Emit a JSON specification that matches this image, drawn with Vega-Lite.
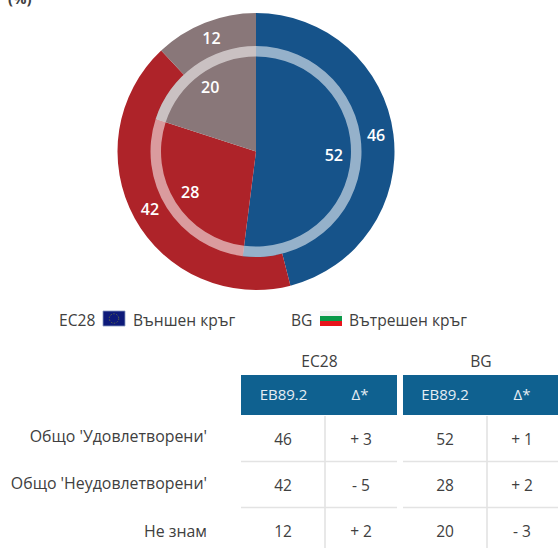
{
"$schema":"https://vega.github.io/schema/vega-lite/v6.json",
"width":558,"height":548,"padding":0,"autosize":{"type":"none"},"background":"white",
"config":{"view":{"stroke":null},"text":{"font":"Open Sans"}},
"datasets":{
"results":[
{"scope":"EC28","category":"Общо 'Удовлетворени'","rank":1,"value":46,"delta":"+ 3"},
{"scope":"EC28","category":"Общо 'Неудовлетворени'","rank":2,"value":42,"delta":"- 5"},
{"scope":"EC28","category":"Не знам","rank":3,"value":12,"delta":"+ 2"},
{"scope":"BG","category":"Общо 'Удовлетворени'","rank":1,"value":52,"delta":"+ 1"},
{"scope":"BG","category":"Общо 'Неудовлетворени'","rank":2,"value":28,"delta":"+ 2"},
{"scope":"BG","category":"Не знам","rank":3,"value":20,"delta":"- 3"}],
"scopes":[{"scope":"EC28","wave":"EB89.2","change":"Δ*","circle":"Външен кръг"},{"scope":"BG","wave":"EB89.2","change":"Δ*","circle":"Вътрешен кръг"}],
"stripes":[{"scope":"BG","stripe":"бяло"},{"scope":"BG","stripe":"зелено"},{"scope":"BG","stripe":"червено"}],
"notes":[{"unit":"(%)"}]
},
"resolve":{"scale":{"x":"independent","y":"independent","color":"independent","theta":"independent"}},
"layer":[
{"data":{"name":"notes"},"mark":{"type":"text","align":"left","baseline":"alphabetic","fontSize":15,"fontWeight":"bold","color":"#404040"},
 "encoding":{"text":{"field":"unit"},"x":{"field":"unit","type":"nominal","scale":{"type":"point","domain":["(%)"],"range":[8,8],"padding":0},"axis":null},"y":{"field":"unit","type":"nominal","scale":{"type":"point","domain":["(%)"],"range":[4,4],"padding":0},"axis":null}}},
{"data":{"name":"results"},"transform":[{"filter":"datum.scope==='EC28'"}],"mark":{"type":"arc","radius":138.5,"radius2":104},
 "encoding":{"theta":{"field":"value","type":"quantitative","stack":true,"scale":{"domain":[0,100]}},"order":{"field":"rank"},
 "color":{"field":"category","type":"nominal","legend":null,"scale":{"domain":["Общо 'Удовлетворени'","Общо 'Неудовлетворени'","Не знам"],"range":["#16538a","#ae2329","#897779"]}},
 "x":{"field":"scope","type":"nominal","scale":{"type":"point","domain":["EC28","BG"],"range":[256,256],"padding":0},"axis":null},"y":{"field":"scope","type":"nominal","scale":{"type":"point","domain":["EC28","BG"],"range":[151.5,151.5],"padding":0},"axis":null}}},
{"data":{"name":"results"},"transform":[{"filter":"datum.scope==='BG'"}],"mark":{"type":"arc","radius":105.5,"radius2":0},
 "encoding":{"theta":{"field":"value","type":"quantitative","stack":true,"scale":{"domain":[0,100]}},"order":{"field":"rank"},
 "color":{"field":"category","type":"nominal","legend":null,"scale":{"domain":["Общо 'Удовлетворени'","Общо 'Неудовлетворени'","Не знам"],"range":["#16538a","#ae2329","#897779"]}},
 "x":{"field":"scope","type":"nominal","scale":{"type":"point","domain":["EC28","BG"],"range":[256,256],"padding":0},"axis":null},"y":{"field":"scope","type":"nominal","scale":{"type":"point","domain":["EC28","BG"],"range":[151.5,151.5],"padding":0},"axis":null}}},
{"data":{"name":"results"},"transform":[{"filter":"datum.scope==='BG'"}],"mark":{"type":"arc","radius":105.5,"radius2":95,"color":"white","opacity":0.55},
 "encoding":{"theta":{"field":"value","type":"quantitative","stack":true,"scale":{"domain":[0,100]}},"order":{"field":"rank"},"detail":{"field":"category"},
 "x":{"field":"scope","type":"nominal","scale":{"type":"point","domain":["EC28","BG"],"range":[256,256],"padding":0},"axis":null},"y":{"field":"scope","type":"nominal","scale":{"type":"point","domain":["EC28","BG"],"range":[151.5,151.5],"padding":0},"axis":null}}},
{"data":{"name":"results"},"transform":[{"filter":"datum.scope==='EC28'"}],"mark":{"type":"text","radius":121,"color":"white","fontSize":16,"fontWeight":600},
 "encoding":{"theta":{"field":"value","type":"quantitative","stack":true,"scale":{"domain":[0,100]}},"order":{"field":"rank"},"detail":{"field":"category"},"text":{"field":"value"},
 "x":{"field":"scope","type":"nominal","scale":{"type":"point","domain":["EC28","BG"],"range":[256,256],"padding":0},"axis":null},"y":{"field":"scope","type":"nominal","scale":{"type":"point","domain":["EC28","BG"],"range":[151.5,151.5],"padding":0},"axis":null}}},
{"data":{"name":"results"},"transform":[{"filter":"datum.scope==='BG'"}],"mark":{"type":"text","radius":78,"color":"white","fontSize":16,"fontWeight":600},
 "encoding":{"theta":{"field":"value","type":"quantitative","stack":true,"scale":{"domain":[0,100]}},"order":{"field":"rank"},"detail":{"field":"category"},"text":{"field":"value"},
 "x":{"field":"scope","type":"nominal","scale":{"type":"point","domain":["EC28","BG"],"range":[256,256],"padding":0},"axis":null},"y":{"field":"scope","type":"nominal","scale":{"type":"point","domain":["EC28","BG"],"range":[151.5,151.5],"padding":0},"axis":null}}},
{"data":{"name":"scopes"},"mark":{"type":"text","align":"left","fontSize":15.6,"color":"#404040"},
 "encoding":{"text":{"field":"scope"},"x":{"field":"scope","type":"nominal","scale":{"type":"point","domain":["EC28","BG"],"range":[59,291],"padding":0},"axis":null},"y":{"field":"scope","type":"nominal","scale":{"type":"point","domain":["EC28","BG"],"range":[320.5,320.5],"padding":0},"axis":null}}},
{"data":{"name":"scopes"},"mark":{"type":"text","align":"left","fontSize":15.6,"color":"#404040"},
 "encoding":{"text":{"field":"circle"},"x":{"field":"scope","type":"nominal","scale":{"type":"point","domain":["EC28","BG"],"range":[133,349],"padding":0},"axis":null},"y":{"field":"scope","type":"nominal","scale":{"type":"point","domain":["EC28","BG"],"range":[320.5,320.5],"padding":0},"axis":null}}},
{"data":{"name":"scopes"},"transform":[{"filter":"datum.scope==='EC28'"}],"mark":{"type":"rect","color":"#0d1a7a","stroke":"#8c9cc0","strokeWidth":0.8},
 "encoding":{"x":{"field":"scope","type":"nominal","scale":{"type":"band","domain":["EC28","BG"],"range":[103,342],"paddingInner":0.8986,"paddingOuter":0},"axis":null},"y":{"field":"scope","type":"nominal","scale":{"type":"band","domain":["EC28"],"range":[311,326],"paddingInner":0,"paddingOuter":0},"axis":null}}},
{"data":{"name":"scopes"},"transform":[{"filter":"datum.scope==='EC28'"}],"mark":{"type":"point","filled":false,"size":90,"stroke":"#5f6a45","strokeWidth":1,"strokeDash":[1.5,1.5],"opacity":1},
 "encoding":{"x":{"field":"scope","type":"nominal","scale":{"type":"point","domain":["EC28","BG"],"range":[114,114],"padding":0},"axis":null},"y":{"field":"scope","type":"nominal","scale":{"type":"point","domain":["EC28","BG"],"range":[318.5,318.5],"padding":0},"axis":null}}},
{"data":{"name":"stripes"},"mark":{"type":"rect"},
 "encoding":{"x":{"field":"scope","type":"nominal","scale":{"type":"band","domain":["EC28","BG"],"range":[103,342],"paddingInner":0.8986,"paddingOuter":0},"axis":null},"y":{"field":"stripe","type":"nominal","sort":null,"scale":{"type":"band","domain":["бяло","зелено","червено"],"range":[311,326],"paddingInner":0,"paddingOuter":0},"axis":null},
 "color":{"field":"stripe","type":"nominal","legend":null,"scale":{"domain":["бяло","зелено","червено"],"range":["#f2f2f2","#0b9a4a","#e8141c"]}}}},
{"data":{"name":"scopes"},"mark":{"type":"text","fontSize":15.6,"color":"#404040"},
 "encoding":{"text":{"field":"scope"},"x":{"field":"scope","type":"nominal","scale":{"type":"point","domain":["EC28","BG"],"range":[319.5,481],"padding":0},"axis":null},"y":{"field":"scope","type":"nominal","scale":{"type":"point","domain":["EC28","BG"],"range":[362,362],"padding":0},"axis":null}}},
{"data":{"name":"scopes"},"mark":{"type":"rect","color":"#0f6190"},
 "encoding":{"x":{"field":"scope","type":"nominal","scale":{"type":"band","domain":["EC28","BG"],"range":[241,559],"paddingInner":0.037,"paddingOuter":0},"axis":null},"y":{"field":"wave","type":"nominal","scale":{"type":"band","domain":["EB89.2"],"range":[375,415],"padding":0},"axis":null}}},
{"data":{"name":"scopes"},"mark":{"type":"text","fontSize":15,"color":"#e6eef4"},
 "encoding":{"text":{"field":"wave"},"x":{"field":"scope","type":"nominal","scale":{"type":"point","domain":["EC28","BG"],"range":[283.5,445],"padding":0},"axis":null},"y":{"field":"scope","type":"nominal","scale":{"type":"point","domain":["EC28","BG"],"range":[395,395],"padding":0},"axis":null}}},
{"data":{"name":"scopes"},"mark":{"type":"text","fontSize":15,"color":"#e6eef4"},
 "encoding":{"text":{"field":"change"},"x":{"field":"scope","type":"nominal","scale":{"type":"point","domain":["EC28","BG"],"range":[360,522],"padding":0},"axis":null},"y":{"field":"scope","type":"nominal","scale":{"type":"point","domain":["EC28","BG"],"range":[395,395],"padding":0},"axis":null}}},
{"data":{"name":"results"},"mark":{"type":"rect","width":1.2,"color":"#d9d9d9"},
 "encoding":{"x":{"field":"scope","type":"nominal","scale":{"type":"point","domain":["EC28","BG"],"range":[325,487],"padding":0},"axis":null},"y":{"field":"category","type":"nominal","scale":{"type":"band","domain":["Общо 'Удовлетворени'","Общо 'Неудовлетворени'","Не знам"],"range":[416,554],"padding":0},"axis":null}}},
{"data":{"name":"results"},"transform":[{"filter":"datum.rank<3"}],"mark":{"type":"rect","height":1.5,"color":"#e3e3e3"},
 "encoding":{"x":{"field":"scope","type":"nominal","scale":{"type":"band","domain":["EC28","BG"],"range":[241,559],"paddingInner":0.037,"paddingOuter":0},"axis":null},"y":{"field":"category","type":"nominal","scale":{"type":"point","domain":["Общо 'Удовлетворени'","Общо 'Неудовлетворени'"],"range":[461.5,507.5],"padding":0},"axis":null}}},
{"data":{"name":"results"},"transform":[{"filter":"datum.scope==='EC28'"}],"mark":{"type":"text","align":"right","fontSize":15.9,"color":"#404040"},
 "encoding":{"text":{"field":"category"},"x":{"field":"scope","type":"nominal","scale":{"type":"point","domain":["EC28","BG"],"range":[207,207],"padding":0},"axis":null},"y":{"field":"category","type":"nominal","scale":{"type":"band","domain":["Общо 'Удовлетворени'","Общо 'Неудовлетворени'","Не знам"],"range":[413,555.5],"padding":0},"axis":null}}},
{"data":{"name":"results"},"mark":{"type":"text","fontSize":15.5,"color":"#404040"},
 "encoding":{"text":{"field":"value"},"x":{"field":"scope","type":"nominal","scale":{"type":"point","domain":["EC28","BG"],"range":[283,445],"padding":0},"axis":null},"y":{"field":"category","type":"nominal","scale":{"type":"band","domain":["Общо 'Удовлетворени'","Общо 'Неудовлетворени'","Не знам"],"range":[416.5,554.5],"padding":0},"axis":null}}},
{"data":{"name":"results"},"mark":{"type":"text","fontSize":15.5,"color":"#404040"},
 "encoding":{"text":{"field":"delta"},"x":{"field":"scope","type":"nominal","scale":{"type":"point","domain":["EC28","BG"],"range":[361,522],"padding":0},"axis":null},"y":{"field":"category","type":"nominal","scale":{"type":"band","domain":["Общо 'Удовлетворени'","Общо 'Неудовлетворени'","Не знам"],"range":[416.5,554.5],"padding":0},"axis":null}}}
]
}
